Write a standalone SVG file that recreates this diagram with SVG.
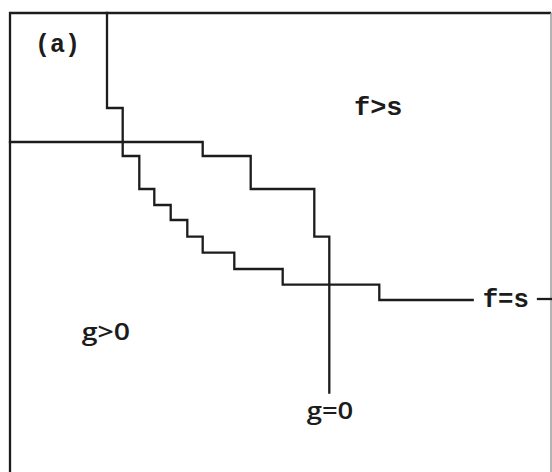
<svg xmlns="http://www.w3.org/2000/svg" width="552" height="472" viewBox="0 0 552 472">
  <style>
    .ln { fill: none; stroke: #1c1c1c; stroke-width: 2.3; stroke-linejoin: miter; stroke-linecap: square; }
    .mono { font-family: "Liberation Mono", "DejaVu Sans Mono", monospace; font-weight: bold; font-size: 25px; fill: #1c1c1c; }
    .sans { font-family: "Open Sans", "Noto Sans", "Liberation Sans", sans-serif; font-weight: 600; font-size: 23px; fill: #1c1c1c; }
  </style>
  <rect x="0" y="0" width="552" height="472" fill="#ffffff"/>
  <g id="frame">
    <path class="ln" d="M10,472 V13 H550"/>
    <path d="M551,13 V472" fill="none" stroke="#9a9a9a" stroke-width="1.5"/>
  </g>
  <g id="connectors">
    <path id="curve-fs" class="ln" d="M107,13 V108 H122.7 V156 H139.3 V189 H154.3 V205 H170.7 V220 H187.3 V236.7 H202.7 V252.7 H234.3 V269 H282.7 V284.7 H379.3 V300 H472.7"/>
    <path id="curve-fs-tail" class="ln" d="M538,299 H552"/>
    <path id="curve-g0" class="ln" d="M10,142 H202.7 V156 H250.7 V189 H314.3 V236.7 H329.3 V392.7"/>
  </g>
  <g id="label-a"><text class="mono" x="35" y="52" textLength="45" lengthAdjust="spacingAndGlyphs">(a)</text></g>
  <g id="label-fgts"><text class="mono" x="354" y="115" textLength="48.5" lengthAdjust="spacingAndGlyphs">f&gt;s</text></g>
  <g id="label-fes"><text class="mono" x="482.7" y="307" textLength="46.3" lengthAdjust="spacingAndGlyphs">f=s</text></g>
  <g id="label-ggt0"><text class="sans" x="81.7" y="339.5" textLength="48.3" lengthAdjust="spacingAndGlyphs">g&gt;0</text></g>
  <g id="label-ge0"><text class="sans" x="306.7" y="419.3" textLength="46.6" lengthAdjust="spacingAndGlyphs">g=0</text></g>
</svg>
